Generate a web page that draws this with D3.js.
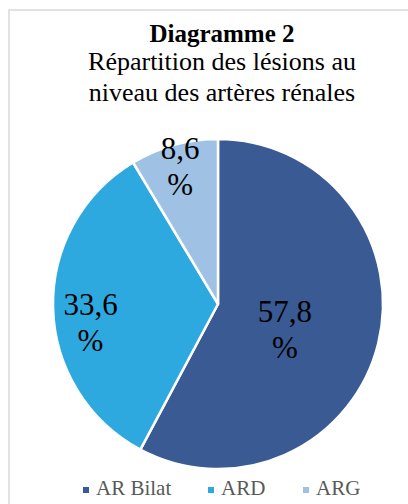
<!DOCTYPE html>
<html><head><meta charset="utf-8">
<script src="https://cdn.jsdelivr.net/npm/d3@7"></script>
<style>html,body{margin:0;padding:0;background:#fff;overflow:hidden}
svg text{font-family:"Liberation Serif","Times New Roman",serif}</style>
</head><body>
<svg id="c" width="408" height="504"></svg>
<script>
const categories = ["AR Bilat", "ARD", "ARG"];
const values = [57.8, 33.6, 8.6];
const labels = ["57,8", "33,6", "8,6"];
const colors = ["#3A5A94", "#2EA9E0", "#9FC2E4"];
const titleText = "Diagramme 2";
const subtitleLines = ["Répartition des lésions au", "niveau des artères rénales"];

const svg = d3.select("#c");

svg.append("rect").attr("x", 9).attr("y", 10).attr("width", 427).attr("height", 520)
  .attr("fill", "#fff").attr("stroke", "#d9d9d9").attr("stroke-width", 1.5);

svg.append("text").attr("x", 222).attr("y", 42).attr("text-anchor", "middle")
  .style("font-weight", "bold").style("font-size", "25px")
  .attr("fill", "#000").text(titleText);
subtitleLines.forEach((t, i) => {
  svg.append("text").attr("x", 222).attr("y", 70 + i * 31).attr("text-anchor", "middle")
    .style("font-size", "26px").attr("fill", "#000").text(t);
});

const cx = 218, cy = 304, r = 165;
const data = categories.map((c, i) => ({ c, v: values[i], l: labels[i], col: colors[i] }));
const pie = d3.pie().value(d => d.v).sort(null);
const arcs = pie(data);
const arc = d3.arc().innerRadius(0).outerRadius(r);
const g = svg.append("g").attr("transform", `translate(${cx},${cy})`);
g.selectAll("path").data(arcs).join("path")
  .attr("d", arc).attr("fill", d => d.data.col)
  .attr("stroke", "#fff").attr("stroke-width", 2.5).attr("stroke-linejoin", "round");

const labelR = [0.418, 0.773, 0.861];
const labelDy = [1, 8, -8];
arcs.forEach((a, i) => {
  const m = (a.startAngle + a.endAngle) / 2;
  const rr = r * labelR[i];
  const x = Math.sin(m) * rr, y = -Math.cos(m) * rr;
  const t = g.append("text").attr("text-anchor", "middle")
    .style("font-size", "31px").attr("fill", "#000");
  t.append("tspan").attr("x", x).attr("y", y + labelDy[i]).text(a.data.l);
  t.append("tspan").attr("x", x).attr("y", y + labelDy[i] + 36).text("%");
});

const legX = [83, 208, 303];
data.forEach((d, i) => {
  svg.append("rect").attr("x", legX[i]).attr("y", 487).attr("width", 6).attr("height", 6).attr("fill", d.col);
  svg.append("text").attr("x", legX[i] + 13).attr("y", 495)
    .style("font-size", "21px").attr("fill", "#595959").text(d.c);
});
</script>
</body></html>
